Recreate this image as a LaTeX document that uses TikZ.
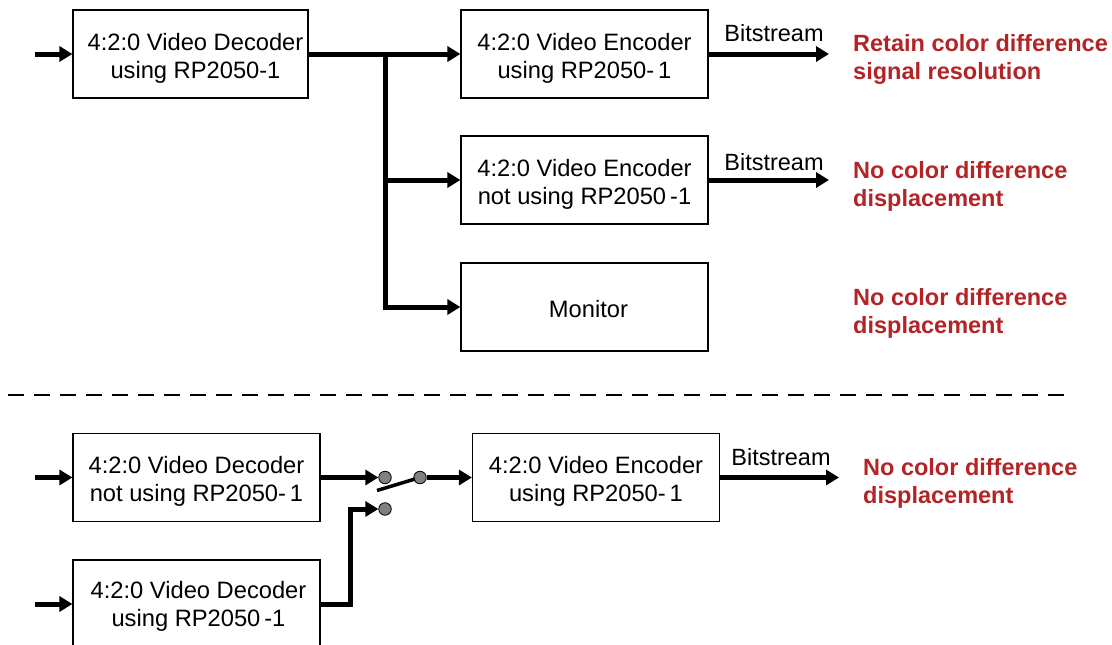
\documentclass[tikz,border=0pt]{standalone}
\usepackage{fontspec}
\setmainfont{Liberation Sans}
\usetikzlibrary{arrows.meta}
\definecolor{redtxt}{RGB}{178,36,38}
\definecolor{contact}{RGB}{128,128,128}
\begin{document}
\begin{tikzpicture}[x=1pt,y=-1pt,
  blk/.style={draw,line width=1.2pt,minimum width=#1,minimum height=88pt,inner sep=0pt},
  blk/.default=247pt,
  txt/.style={align=center,inner sep=0pt,font=\fontsize{23.7}{28}\selectfont},
  flow/.style={line width=5pt,-{Triangle[length=13pt,width=15pt]}},
  wire/.style={line width=5pt},
  lbl/.style={font=\fontsize{23.5}{28}\selectfont,inner sep=0pt},
  note/.style={font=\fontsize{23.5}{28}\selectfont\bfseries,text=redtxt,align=left,anchor=west,inner sep=0pt},
  sw/.style={circle,draw,line width=0.8pt,fill=contact,minimum size=12.5pt,inner sep=0pt}]
\useasboundingbox (0,0) rectangle (1112,645);
% boxes
\node[blk=235pt] (dec1) at (190.5,54) {};
\node[blk] (enc1) at (584.5,54) {};
\node[blk] (enc2) at (584.5,180) {};
\node[blk] (mon) at (584.5,307) {};
\node[blk] (dec2) at (196.5,477.5) {};
\node[blk] (enc3) at (596,477.5) {};
\node[blk] (dec3) at (196.5,604) {};
% box texts
\node[txt] (t1) at ([xshift=5pt,yshift=-4pt]dec1.center) {4:2:0 Video Decoder\\using RP2050-1};
\node[txt] (t2) at ([yshift=-4pt]enc1.center) {4:2:0 Video Encoder\\using RP2050-\,1};
\node[txt] (t3) at ([yshift=-4pt]enc2.center) {4:2:0 Video Encoder\\not using RP2050\,-1};
\node[txt] (t4) at ([xshift=4pt,yshift=-2pt]mon.center) {Monitor};
\node[txt] (t5) at ([yshift=-4pt]dec2.center) {4:2:0 Video Decoder\\not using RP2050-\,1};
\node[txt] (t6) at ([yshift=-4pt]enc3.center) {4:2:0 Video Encoder\\using RP2050-\,1};
\node[txt] (t7) at ([xshift=2pt,yshift=-2pt]dec3.center) {4:2:0 Video Decoder\\using RP2050\,-1};
% inputs
\coordinate (in1) at (35,54);
\coordinate (in2) at (35,477.5);
\coordinate (in3) at (35,604);
\draw[flow] (in1) -- (dec1.west);
\draw[flow] (in2) -- (dec2.west);
\draw[flow] (in3) -- (dec3.west);
% top branching
\coordinate (j1) at (385,54);
\draw[flow] (dec1.east) -- (enc1.west);
\draw[wire] (j1) -- ++(0,-2.5);
\draw[flow] (j1) |- (enc2.west);
\draw[flow] (j1) |- (mon.west);
% bitstreams
\coordinate (bs1) at (829,54);
\coordinate (bs2) at (829,180);
\coordinate (bs3) at (839,477.5);
\draw[flow] (enc1.east) -- (bs1);
\draw[flow] (enc2.east) -- (bs2);
\draw[flow] (enc3.east) -- (bs3);
\node[lbl] (b1) at (774,33) {Bitstream};
\node[lbl] (b2) at (774,162) {Bitstream};
\node[lbl] (b3) at (781,457) {Bitstream};
% notes
\node[note] (n1) at (853,59) {Retain color difference\\signal resolution};
\node[note] (n2) at (853,186) {No color difference\\displacement};
\node[note] (n3) at (853,313) {No color difference\\displacement};
\node[note] (n4) at (863,483) {No color difference\\displacement};
% separator
\coordinate (d1) at (8,395);
\coordinate (d2) at (1066,395);
\draw[line width=1.6pt,dash pattern=on 16pt off 10pt] (d1) -- (d2);
% switch
\node[sw] (swA) at (385,477.5) {};
\node[sw] (swB) at (420,477.5) {};
\node[sw] (swC) at (385,509) {};
\coordinate (lv1) at (377,490.5);
\coordinate (lv2) at (415,479);
\draw[line width=3.5pt] (lv1) -- (lv2);
\draw[flow] (dec2.east) -- (swA.west);
\draw[flow] (swB.east) -- (enc3.west);
\coordinate (k1) at (350,604);
\draw[flow] (dec3.east) -- (k1) |- (swC.west);
\end{tikzpicture}
\end{document}
